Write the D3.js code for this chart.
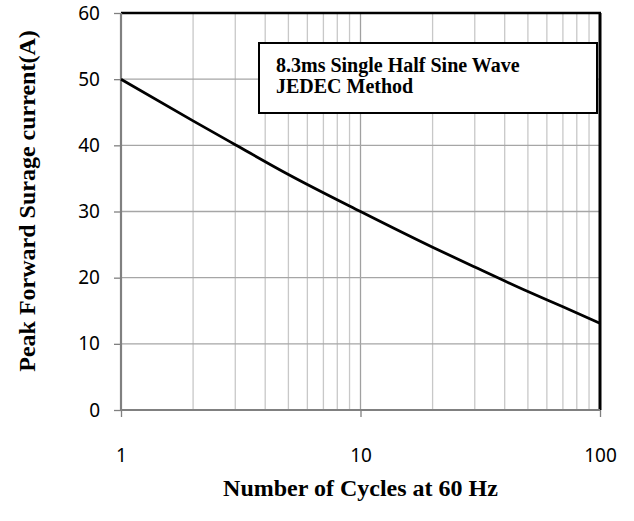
<!DOCTYPE html>
<html><head><meta charset="utf-8">
<script src="https://cdn.jsdelivr.net/npm/d3@7"></script>
<style>body{margin:0;background:#fff}svg{display:block}</style>
</head><body>
<svg id="c" width="634" height="521"></svg>
<script>
const cycles = [1, 2, 3, 5, 10, 20, 30, 50, 70, 100];
const current = [50, 43.7, 40.1, 35.6, 30, 24.6, 21.6, 17.9, 15.6, 13.1];
const yTicks = [0, 10, 20, 30, 40, 50, 60];
const xTicks = [1, 10, 100];
const xMinor = [2,3,4,5,6,7,8,9,20,30,40,50,60,70,80,90];
const legendLines = ["8.3ms Single Half Sine Wave", "JEDEC Method"];
const xTitle = "Number of Cycles at 60 Hz";
const yTitle = "Peak Forward Surage current(A)";

const L = 121, R = 600, T = 13, B = 410;
const svg = d3.select("#c");
const x = d3.scaleLog().domain([1, 100]).range([L, R]);
const y = d3.scaleLinear().domain([0, 60]).range([B, T]);

// minor vertical grid
svg.append("g").selectAll("line").data(xMinor).join("line")
  .attr("x1", d => x(d)).attr("x2", d => x(d)).attr("y1", T).attr("y2", B)
  .attr("stroke", "#c8c8c8").attr("stroke-width", 1.3);
// major vertical grid
svg.append("g").selectAll("line").data([10]).join("line")
  .attr("x1", d => x(d)).attr("x2", d => x(d)).attr("y1", T).attr("y2", B)
  .attr("stroke", "#a0a0a0").attr("stroke-width", 1.3);
// horizontal grid
svg.append("g").selectAll("line").data(yTicks.filter(d => d > 0 && d < 60)).join("line")
  .attr("x1", L).attr("x2", R).attr("y1", d => y(d)).attr("y2", d => y(d))
  .attr("stroke", "#a6a6a6").attr("stroke-width", 1.3);

// top and right borders
svg.append("line").attr("x1", L).attr("x2", R + 1).attr("y1", T).attr("y2", T)
  .attr("stroke", "#000").attr("stroke-width", 2.5);
svg.append("line").attr("x1", R).attr("x2", R).attr("y1", T).attr("y2", B)
  .attr("stroke", "#000").attr("stroke-width", 3);

// axes
const tickFont = "'Noto Sans', sans-serif";
const yAxis = d3.axisLeft(y).tickValues(yTicks).tickSize(7).tickPadding(14).tickFormat(d3.format("d"));
const gy = svg.append("g").attr("transform", `translate(${L},0)`).call(yAxis);
gy.select(".domain").attr("stroke", "#808080").attr("stroke-width", 2.2).attr("d", `M0,${T}V${B}`);
gy.selectAll(".tick line").attr("stroke", "#808080").attr("stroke-width", 1.3);
gy.selectAll(".tick text").attr("font-family", tickFont).attr("font-size", 19).attr("fill", "#000");

const xAxis = d3.axisBottom(x).tickValues(xTicks).tickSize(7).tickPadding(0).tickFormat(d3.format("d"));
const gx = svg.append("g").attr("transform", `translate(0,${B})`).call(xAxis);
gx.select(".domain").attr("stroke", "#808080").attr("stroke-width", 2.2).attr("d", `M${L},0H${R}`);
gx.selectAll(".tick line").attr("stroke", "#808080").attr("stroke-width", 1.3);
gx.selectAll(".tick text").attr("font-family", tickFont).attr("font-size", 19).attr("fill", "#000")
  .attr("dy", null).attr("y", 52);

// curve
const line = d3.line().x((d, i) => x(cycles[i])).y(d => y(d)).curve(d3.curveMonotoneX);
svg.append("path").attr("d", line(current)).attr("fill", "none")
  .attr("stroke", "#000").attr("stroke-width", 2.8);

// legend box
const lg = svg.append("g");
lg.append("rect").attr("x", 259).attr("y", 43).attr("width", 338).attr("height", 70)
  .attr("fill", "#fff").attr("stroke", "#000").attr("stroke-width", 2);
lg.selectAll("text").data(legendLines).join("text")
  .attr("x", 276).attr("y", (d, i) => 72 + i * 21)
  .attr("font-family", "'Liberation Serif', 'Times New Roman', serif").attr("font-weight", "bold")
  .attr("font-size", 20).text(d => d);

// titles
svg.append("text").attr("x", (L + R) / 2).attr("y", 496).attr("text-anchor", "middle")
  .attr("font-family", "'Liberation Serif', 'Times New Roman', serif").attr("font-weight", "bold")
  .attr("font-size", 24).text(xTitle);
svg.append("text").attr("transform", "translate(35,201) rotate(-90)").attr("text-anchor", "middle")
  .attr("font-family", "'Liberation Serif', 'Times New Roman', serif").attr("font-weight", "bold")
  .attr("font-size", 24).text(yTitle);
</script>
</body></html>
